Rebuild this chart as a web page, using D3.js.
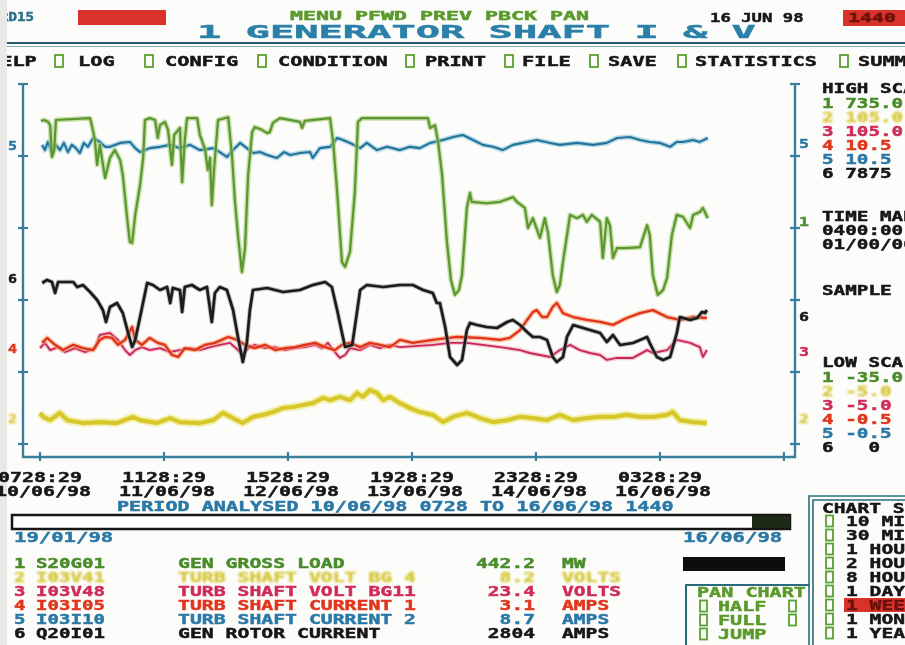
<!DOCTYPE html>
<html><head><meta charset="utf-8">
<script src="https://cdn.jsdelivr.net/npm/d3@7"></script>
<style>
html,body{margin:0;padding:0;background:#fcfcfa;overflow:hidden}
svg text{font-family:'DejaVu Sans Mono',monospace;font-weight:bold;white-space:pre}
</style>
</head><body>
<svg id="c" width="905" height="645"></svg>
<script>
// ---------------- DATA ----------------
const tickHours = [0, 28, 56, 84, 112, 140, 168];
const tickTimes = ["0728:29", "1128:29", "1528:29", "1928:29", "2328:29", "0328:29"];
const tickDates = ["10/06/98", "11/06/98", "12/06/98", "13/06/98", "14/06/98", "16/06/98"];
const axisFractions = [0, 0.2, 0.4, 0.6, 0.8, 1.0];

const seriesIds = [1, 2, 3, 4, 5, 6];
const seriesCodes = ["S20G01", "I03V41", "I03V48", "I03I05", "I03I10", "Q20I01"];
const seriesNames = ["GEN GROSS LOAD", "TURB SHAFT VOLT BG 4", "TURB SHAFT VOLT BG11",
  "TURB SHAFT CURRENT 1", "TURB SHAFT CURRENT 2", "GEN ROTOR CURRENT"];
const seriesCurrent = ["442.2", "8.2", "23.4", "3.1", "8.7", "2804"];
const seriesUnits = ["MW", "VOLTS", "VOLTS", "AMPS", "AMPS", "AMPS"];
const highScale = [735.0, 105.0, 105.0, 10.5, 10.5, 7875];
const lowScale = [-35.0, -5.0, -5.0, -0.5, -0.5, 0];
const highLabels = ["735.0", "105.0", "105.0", "10.5", "10.5", "7875"];
const lowLabels = ["-35.0", "-5.0", "-5.0", "-0.5", "-0.5", "  0"];
const leftMarkers = [[5, 8.64], [6, 3631], [4, 2.43], [2, 2.9]];
const rightMarkers = [[5, 8.7], [1, 442.2], [6, 2804], [3, 23.4], [2, 2.9]];

// [hours since 10/06/98 07:28, value]
const s1 = [[0.2,656],[0.9,658],[1.8,654],[2.3,647],[2.7,579],[3.2,594],[3.6,658],[11.3,662],[11.7,647],[12.4,615],[12.9,562],[13.5,605],[14.7,534],[15.8,577],[16.9,594],[18.1,572],[18.7,540],[19.6,455],[20.3,397],[20.8,395],[21.5,455],[22.6,519],[23.3,577],[23.7,658],[24.8,662],[26.0,658],[26.6,620],[27.1,647],[28.2,654],[28.9,637],[29.8,562],[30.3,626],[31.6,641],[32.1,525],[32.7,615],[33.2,662],[35.5,662],[36.1,626],[37.3,594],[37.9,551],[38.4,577],[38.8,476],[39.3,551],[40.2,658],[42.5,664],[43.4,577],[44.0,487],[44.7,412],[45.6,333],[46.3,384],[47.0,540],[47.9,632],[48.5,643],[50.1,637],[51.3,630],[51.9,632],[52.6,652],[54.2,662],[58.7,654],[59.2,641],[59.8,656],[65.5,662],[66.2,611],[67.1,504],[68.2,354],[68.9,344],[70.0,376],[71.1,504],[71.8,654],[72.7,662],[87.6,662],[88.1,641],[89.2,647],[89.9,611],[90.8,540],[91.9,397],[92.8,316],[93.7,284],[94.6,294],[95.3,326],[96.4,470],[97.1,502],[97.5,483],[100.9,480],[103.9,483],[106.8,493],[107.7,483],[109.5,470],[110.2,427],[111.3,448],[112.9,406],[114.0,448],[114.7,418],[115.8,326],[116.7,290],[117.4,305],[118.1,354],[119.7,455],[121.3,448],[122.6,455],[123.5,440],[124.6,455],[126.5,440],[127.1,363],[128.0,448],[128.7,433],[129.4,363],[130.3,384],[132.5,384],[135.5,386],[137.1,433],[137.7,412],[138.4,326],[139.5,284],[140.7,294],[141.6,320],[142.7,412],[143.8,455],[145.2,451],[146.8,427],[147.5,455],[149.0,461],[149.7,470],[150.8,448]];
const s2 = [[0.0,4.5],[0.7,3.3],[2.3,2.3],[4.5,4.5],[6.1,2.3],[9.7,1.4],[13.5,1.7],[17.4,1.4],[21.0,3.3],[22.6,2.3],[26.4,1.4],[29.4,2.9],[31.6,1.7],[36.1,1.4],[39.1,2.3],[41.3,4.5],[43.6,2.9],[45.8,1.4],[48.1,3.3],[50.4,3.9],[52.6,4.8],[54.9,6.0],[57.1,6.3],[59.4,6.9],[61.6,7.5],[63.9,9.1],[65.5,8.4],[67.7,9.4],[70.0,8.4],[71.6,10.6],[72.9,9.4],[74.5,11.5],[76.1,10.6],[77.5,8.4],[79.0,9.4],[81.3,7.5],[83.5,6.0],[85.8,4.8],[88.7,3.9],[91.0,1.7],[93.3,3.3],[96.4,4.5],[99.4,2.9],[102.3,1.7],[105.5,2.3],[108.4,3.3],[111.3,2.9],[114.5,2.3],[117.4,3.9],[120.4,2.3],[123.5,2.9],[126.5,3.3],[129.4,3.3],[132.5,3.9],[135.5,3.3],[138.4,3.3],[141.6,3.9],[142.9,4.8],[144.5,2.3],[147.5,1.7],[150.6,1.4]];
const s3 = [[0.0,24.3],[1.1,25.9],[2.3,23.7],[4.1,24.6],[5.6,23.1],[7.9,24.3],[10.2,23.1],[12.4,24.3],[13.5,28.3],[15.8,28.9],[17.6,26.8],[19.2,23.7],[20.3,22.2],[21.5,23.7],[23.0,24.6],[24.8,23.7],[27.1,24.3],[29.4,23.1],[31.6,23.7],[33.9,24.3],[36.1,23.7],[38.4,24.6],[40.6,25.3],[42.9,25.9],[44.7,23.7],[45.8,22.2],[47.0,24.3],[48.5,25.3],[50.8,24.3],[53.1,24.6],[55.3,23.7],[57.6,24.3],[59.8,24.6],[62.1,25.3],[63.7,24.3],[65.0,25.9],[66.6,23.1],[67.7,21.3],[68.9,22.2],[70.0,24.3],[72.3,23.7],[74.5,25.3],[76.8,24.3],[79.0,25.3],[81.3,24.6],[88.7,25.3],[92.6,25.9],[96.4,25.9],[103.9,24.6],[108.4,23.7],[110.6,22.8],[112.9,22.2],[115.2,21.6],[117.4,23.7],[119.7,25.3],[121.9,23.7],[124.2,22.8],[126.5,22.2],[128.0,20.7],[130.3,21.3],[133.9,21.3],[137.1,23.7],[138.4,22.8],[141.6,23.7],[143.8,26.8],[146.8,25.9],[149.0,24.6],[149.7,21.6],[150.6,23.7]];
const s4 = [[0.5,2.59],[1.6,2.74],[3.4,2.53],[5.2,2.37],[7.5,2.53],[9.7,2.43],[12.0,2.37],[13.5,2.68],[14.7,2.77],[16.3,2.74],[17.6,2.53],[19.2,2.68],[20.8,3.08],[21.5,2.68],[23.0,2.53],[24.8,2.74],[26.6,2.59],[28.2,2.53],[29.8,2.22],[31.2,2.16],[32.7,2.43],[35.0,2.37],[37.3,2.53],[39.5,2.59],[42.5,2.77],[44.5,2.68],[46.3,2.53],[48.5,2.43],[50.8,2.53],[53.1,2.37],[55.3,2.43],[57.6,2.46],[59.8,2.53],[62.1,2.59],[64.4,2.46],[66.6,2.37],[68.2,2.53],[70.0,2.59],[72.3,2.46],[74.5,2.59],[76.8,2.53],[79.0,2.46],[81.3,2.68],[84.2,2.59],[88.7,2.68],[94.2,2.77],[99.4,2.74],[103.9,2.68],[106.1,2.74],[108.4,2.98],[110.0,3.29],[111.3,3.53],[112.2,3.59],[113.4,3.38],[114.5,3.38],[115.8,3.69],[116.7,3.81],[118.1,3.50],[120.4,3.38],[123.5,3.29],[126.5,3.23],[129.4,3.14],[132.5,3.35],[135.5,3.50],[138.4,3.59],[141.6,3.38],[144.5,3.29],[147.5,3.38],[150.6,3.35]];
const s5 = [[0.5,8.64],[1.1,8.48],[1.8,8.73],[2.7,8.39],[3.6,8.64],[4.5,8.48],[5.4,8.70],[6.3,8.42],[7.2,8.64],[8.1,8.54],[9.0,8.39],[9.9,8.70],[10.8,8.58],[12.0,8.85],[13.5,8.73],[14.7,8.58],[15.8,8.58],[18.1,8.70],[20.3,8.73],[21.5,8.54],[22.6,8.42],[24.8,8.54],[27.1,8.58],[29.4,8.64],[31.6,8.54],[33.9,8.64],[36.1,8.48],[39.1,8.54],[40.6,8.42],[42.2,8.27],[43.6,8.48],[45.2,8.70],[46.7,8.54],[48.1,8.39],[49.7,8.42],[51.3,8.33],[53.5,8.24],[55.1,8.42],[56.5,8.33],[58.7,8.39],[61.0,8.42],[61.6,8.24],[63.2,8.54],[65.5,8.58],[67.1,8.85],[68.4,8.79],[70.0,8.70],[72.3,8.54],[73.8,8.70],[76.1,8.48],[78.4,8.58],[81.3,8.48],[83.5,8.58],[85.8,8.54],[88.1,8.70],[91.0,8.79],[93.3,8.88],[95.5,8.94],[97.8,8.79],[100.0,8.64],[102.3,8.58],[104.5,8.48],[106.8,8.64],[110.0,8.73],[112.2,8.79],[115.2,8.70],[117.4,8.64],[121.3,8.70],[124.9,8.64],[128.0,8.70],[130.3,8.85],[133.2,8.88],[135.5,8.79],[137.7,8.73],[140.0,8.70],[142.3,8.58],[143.8,8.73],[145.2,8.73],[147.5,8.79],[149.0,8.73],[150.8,8.85]];
const s6 = [[0.5,3522],[1.6,3588],[2.7,3544],[3.4,3303],[4.1,3544],[7.5,3544],[8.4,3434],[9.7,3478],[11.3,3325],[12.9,3150],[14.2,2931],[14.9,2669],[15.8,2997],[17.4,3084],[18.7,2866],[19.9,2428],[20.8,2122],[21.5,2275],[22.6,2778],[24.2,3522],[25.5,3478],[27.1,3369],[28.7,3434],[29.4,3084],[30.0,3413],[31.6,3369],[32.1,2888],[32.7,3434],[34.3,3478],[36.1,3369],[37.7,3434],[38.8,2669],[39.5,3303],[40.6,3434],[42.2,3369],[43.6,2931],[44.7,2341],[45.8,1794],[46.7,2209],[47.4,2931],[48.1,3369],[51.3,3413],[54.9,3325],[58.7,3369],[61.6,3478],[64.4,3544],[65.9,3434],[67.1,2931],[68.2,2428],[68.9,2122],[70.5,2166],[71.1,2559],[72.3,3369],[73.8,3478],[77.5,3434],[81.3,3478],[84.2,3478],[86.5,3369],[88.7,3303],[89.6,3084],[90.3,3084],[91.5,2559],[92.6,1903],[94.2,1728],[95.3,1838],[96.4,2494],[97.1,2647],[98.7,2603],[100.9,2559],[103.2,2538],[105.5,2669],[106.8,2713],[108.4,2603],[110.0,2450],[111.3,2341],[112.9,2341],[114.5,2275],[115.8,1903],[116.7,1794],[118.1,1903],[119.0,2341],[120.4,2603],[121.9,2559],[124.2,2494],[126.5,2428],[128.0,2231],[129.4,2384],[131.0,2166],[133.9,2209],[137.1,2341],[137.7,2209],[139.3,1903],[140.7,1838],[142.3,1903],[143.8,2428],[144.5,2778],[146.8,2713],[148.4,2756],[149.5,2888],[150.2,2866],[150.6,2931]];
const seriesData = [s1, s2, s3, s4, s5, s6];

const menuItems = ["HELP", "LOG", "CONFIG", "CONDITION", "PRINT", "FILE", "SAVE", "STATISTICS", "SUMMARY"];
const chartScaleItems = ["10 MINS", "30 MINS", "1 HOUR", "2 HOURS", "8 HOURS", "1 DAY", "1 WEEK", "1 MONTH", "1 YEAR"];
const selectedScale = "1 WEEK";
const panItems = ["HALF", "FULL", "JUMP"];
const periodText = "PERIOD ANALYSED 10/06/98 0728 TO 16/06/98 1440";
const rangeStart = "19/01/98", rangeEnd = "16/06/98";

// ---------------- STYLE / LAYOUT ----------------
const textCol = ["#4a8c2a", "#d6c83a", "#d02c5a", "#e0361c", "#2a78a6", "#151515"];
const lineStyle = [
  {core: "#5b9630", halo: "#a9d07a", w: 2.2, hw: 5},
  {core: "#d6c82c", halo: "#efe884", w: 4.2, hw: 8},
  {core: "#c8285a", halo: "#f2b0c0", w: 1.9, hw: 4.5},
  {core: "#e0301c", halo: "#f4a878", w: 2.3, hw: 5},
  {core: "#22739a", halo: "#90c6da", w: 2.1, hw: 5},
  {core: "#1a1a1a", halo: "#9a9a9a", w: 2.7, hw: 4.5}
];
const drawOrder = [1, 2, 3, 5, 4, 0];
const axisCol = "#3a7e9c";
const greenBox = "#58a030";
const L = {left: 23, right: 795, top: 84, bottom: 457, zero: 444};
const menuX = [-12, 78, 165, 278, 425, 522, 608, 695, 858];
const menuBoxX = [55, 145, 258, 406, 505, 590, 678, 840];

const svg = d3.select("#c");
const defs = svg.append("defs");
defs.append("filter").attr("id", "soft").append("feGaussianBlur").attr("stdDeviation", 0.35);
defs.append("filter").attr("id", "blurY").append("feGaussianBlur").attr("stdDeviation", 1.1);
const root = svg.append("g").attr("filter", "url(#soft)");
root.append("rect").attr("width", 905).attr("height", 645).attr("fill", "#fcfcfa");

function txt(str, x0, cy, color, pitch = 11.8, size = 13.5, filter = null) {
  const t = root.append("text").attr("x", x0).attr("y", cy + size * 0.365)
    .attr("font-size", size).attr("fill", color).attr("stroke", color).attr("stroke-width", 0.45)
    .text(str)
    .attr("textLength", str.length * pitch).attr("lengthAdjust", "spacingAndGlyphs");
  if (filter) t.attr("filter", filter);
  return t;
}
function box(x0, cy, w = 7, h = 11) {
  root.append("rect").attr("x", x0).attr("y", cy - h / 2).attr("width", w).attr("height", h)
    .attr("fill", "none").attr("stroke", greenBox).attr("stroke-width", 1.8);
}

// ---------------- HEADER ----------------
txt("RD15", 0, 17, "#2a6f8a", 8.5, 12);
root.append("rect").attr("x", 78).attr("y", 10).attr("width", 88).attr("height", 15).attr("fill", "#d8322a");
txt("MENU PFWD PREV PBCK PAN", 290, 16, "#5a9a2a", 13, 11.5);
txt("16 JUN 98", 710, 17, "#151515", 10.4, 13);
root.append("rect").attr("x", 843).attr("y", 10).attr("width", 62).attr("height", 16).attr("fill", "#d8322a");
txt("1440", 848, 17, "#6a1208", 12, 13);
txt("1 GENERATOR SHAFT I & V", 197, 31.5, "#2a80a8", 24.3, 17.5);
root.append("line").attr("x1", 0).attr("x2", 905).attr("y1", 43).attr("y2", 43).attr("stroke", "#2a5a72").attr("stroke-width", 2);
root.append("line").attr("x1", 0).attr("x2", 905).attr("y1", 46.5).attr("y2", 46.5).attr("stroke", "#80a8b8").attr("stroke-width", 1.2);

menuItems.forEach((m, i) => txt(m, menuX[i], 61, "#151515", 12.2, 13.5));
menuBoxX.forEach(bx => box(bx, 61, 8, 12));

// ---------------- PLOT ----------------
const x = d3.scaleLinear().domain([-3.84, 170.5]).range([L.left, L.right]);
const yFrac = d3.scaleLinear().domain([0, 1]).range([L.zero, L.top]);
const yScales = seriesIds.map((id, i) => d3.scaleLinear().domain([lowScale[i], highScale[i]]).range([L.zero, L.top]));

// axes
root.append("path").attr("d", `M${L.left},${L.top}V${L.bottom}H${L.right}V${L.top}`)
  .attr("fill", "none").attr("stroke", axisCol).attr("stroke-width", 2.4);
axisFractions.forEach(f => {
  const yy = yFrac(f);
  [L.left, L.right].forEach(ax => root.append("line").attr("x1", ax - 5).attr("x2", ax + 5)
    .attr("y1", yy).attr("y2", yy).attr("stroke", axisCol).attr("stroke-width", 2.2));
});
tickHours.forEach(h => root.append("line").attr("x1", x(h)).attr("x2", x(h))
  .attr("y1", L.bottom - 5).attr("y2", L.bottom + 4).attr("stroke", axisCol).attr("stroke-width", 2.2));

// series lines
drawOrder.forEach(i => {
  const ln = d3.line().x(d => x(d[0])).y(d => yScales[i](d[1]));
  const st = lineStyle[i];
  root.append("path").attr("d", ln(seriesData[i])).attr("fill", "none")
    .attr("stroke", st.halo).attr("stroke-width", st.hw).attr("stroke-opacity", 0.65)
    .attr("stroke-linejoin", "round");
  root.append("path").attr("d", ln(seriesData[i])).attr("fill", "none")
    .attr("stroke", st.core).attr("stroke-width", st.w).attr("stroke-linejoin", "round");
});

// axis series markers
leftMarkers.forEach(([id, v]) => {
  const i = id - 1;
  txt(String(id), 8, yScales[i](v), textCol[i], 9, 13, id === 2 ? "url(#blurY)" : null);
});
rightMarkers.forEach(([id, v]) => {
  const i = id - 1;
  txt(String(id), 799, yScales[i](v), textCol[i], 10, 13, id === 2 ? "url(#blurY)" : null);
});
root.append("rect").attr("x", 0).attr("y", 0).attr("width", 7).attr("height", 645).attr("fill", "#e8e8e6");

// x tick labels
tickTimes.forEach((t, k) => txt(t, x(tickHours[k]) - 42, 477, "#151515", 12, 13.5));
tickDates.forEach((t, k) => txt(t, x(tickHours[k]) - 45, 491, "#151515", 12, 13.5));

// ---------------- RIGHT PANEL ----------------
const PX = 822;
txt("HIGH SCALE", PX, 88, "#151515", 11.6);
seriesIds.forEach((id, i) => txt(`${id} ${highLabels[i]}`, PX, 103 + 14 * i, textCol[i], 11.6, 13.5, id === 2 ? "url(#blurY)" : null));
txt("TIME MARK", PX, 216, "#151515", 11.6);
txt("0400:00", PX, 230, "#151515", 11.6);
txt("01/00/00", PX, 244, "#151515", 11.6);
txt("SAMPLE", PX, 290, "#151515", 11.6);
txt("LOW SCALE", PX, 362, "#151515", 11.6);
seriesIds.forEach((id, i) => txt(`${id} ${lowLabels[i]}`, PX, 377 + 14 * i, textCol[i], 11.6, 13.5, id === 2 ? "url(#blurY)" : null));

// ---------------- PERIOD / SLIDER ----------------
txt(periodText, 117, 506, "#2a78a6", 12.1);
root.append("rect").attr("x", 12).attr("y", 515).attr("width", 778).attr("height", 14)
  .attr("fill", "#ffffff").attr("stroke", "#151515").attr("stroke-width", 2.5);
root.append("rect").attr("x", 752).attr("y", 516).attr("width", 38).attr("height", 12).attr("fill", "#1e2a12");
txt(rangeStart, 14, 537, "#2a78a6", 12.4);
txt(rangeEnd, 683, 537, "#2a78a6", 12.4);

// ---------------- LEGEND ----------------
seriesIds.forEach((id, i) => {
  const cy = 563 + 14 * i;
  const f = id === 2 ? "url(#blurY)" : null;
  const c = textCol[i];
  txt(String(id), 14, cy, c, 11.5, 13.5, f);
  txt(seriesCodes[i], 36, cy, c, 11.5, 13.5, f);
  txt(seriesNames[i], 178, cy, c, 11.9, 13.5, f);
  const v = seriesCurrent[i];
  txt(v, 535 - v.length * 11.8, cy, c, 11.8, 13.5, f);
  txt(seriesUnits[i], 562, cy, c, 11.8, 13.5, f);
});

// ---------------- BOTTOM RIGHT CONTROLS ----------------
root.append("rect").attr("x", 683).attr("y", 557).attr("width", 102).attr("height", 14).attr("fill", "#111");
// pan chart box
root.append("path").attr("d", "M686,645V585H810").attr("fill", "none").attr("stroke", "#2a6a80").attr("stroke-width", 2);
txt("PAN CHART", 697, 592, "#5a9a2a", 12.1);
panItems.forEach((p, k) => {
  const cy = 606 + 14 * k;
  box(700, cy);
  txt(p, 718, cy, "#5a9a2a", 12.1);
  if (k < 2) box(789, cy);
});
// chart scale box
root.append("path").attr("d", "M809,645V496H905").attr("fill", "none").attr("stroke", "#2a6a80").attr("stroke-width", 1.6);
root.append("path").attr("d", "M813,645V500H905").attr("fill", "none").attr("stroke", "#2a6a80").attr("stroke-width", 1.6);
txt("CHART SCALE", 822, 508, "#151515", 11.8);
chartScaleItems.forEach((s, k) => {
  const cy = 521 + 14 * k;
  box(826, cy);
  if (s === selectedScale) {
    root.append("rect").attr("x", 844).attr("y", cy - 7).attr("width", 61).attr("height", 14).attr("fill", "#d8322a");
    txt(s, 846, cy, "#6a1208", 11.8);
  } else {
    txt(s, 846, cy, "#151515", 11.8);
  }
});
</script>
</body></html>
